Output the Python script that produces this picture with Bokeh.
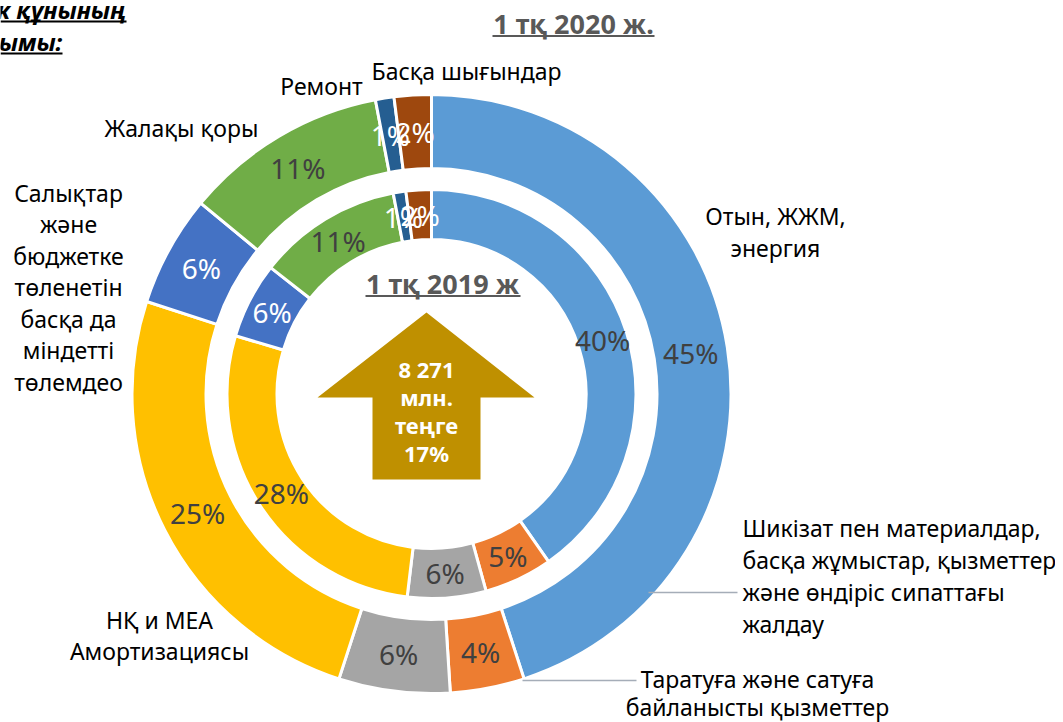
import numpy as np
from bokeh.plotting import figure
from bokeh.models import Range1d, ColumnDataSource
from bokeh.core.properties import value
from bokeh.embed import file_html
from bokeh.resources import INLINE

# ---------------- data ----------------
categories = [
    "Отын, ЖЖМ, энергия",
    "Таратуға және сатуға байланысты қызметтер",
    "Шикізат пен материалдар, басқа жұмыстар, қызметтер және өндіріс сипаттағы жалдау",
    "НҚ и МЕА Амортизациясы",
    "Салықтар және бюджетке төленетін басқа да міндетті төлемдео",
    "Жалақы қоры",
    "Ремонт",
    "Басқа шығындар",
]
label_lines = [
    ["Отын, ЖЖМ,", "энергия"],
    ["Таратуға және сатуға", "байланысты қызметтер"],
    ["Шикізат пен материалдар,", "басқа жұмыстар, қызметтер", "және өндіріс сипаттағы", "жалдау"],
    ["НҚ и МЕА", "Амортизациясы"],
    ["Салықтар", "және", "бюджетке", "төленетін", "басқа да", "міндетті", "төлемдео"],
    ["Жалақы қоры"],
    ["Ремонт"],
    ["Басқа шығындар"],
]
share_2020 = [45, 4, 6, 25, 6, 11, 1, 2]
share_2019 = [40.3, 5.4, 6.2, 27.7, 6.0, 11.4, 1.0, 2.0]
pct_2020 = ["45%", "4%", "6%", "25%", "6%", "11%", "1%", "2%"]
pct_2019 = ["40%", "5%", "6%", "28%", "6%", "11%", "1%", "2%"]
colors = ["#5B9BD5", "#ED7D31", "#A5A5A5", "#FFC000", "#4472C4", "#70AD47", "#255E91", "#9E480E"]
pct_colors = ["#404040", "#404040", "#404040", "#404040", "white", "#404040", "white", "white"]
title_2020 = "1 тқ 2020 ж."
title_2019 = "1 тқ 2019 ж"
arrow_lines = ["8 271", "млн.", "теңге", "17%"]
header_lines = ["Өнімнің өзіндік құнының", "құрылымы:"]

# ---------------- layout ----------------
W, H = 1055, 722


def Y(s):
    return H - s


p = figure(width=W, height=H, x_range=Range1d(0, W), y_range=Range1d(0, H),
           output_backend="svg", toolbar_location=None, min_border=0,
           x_axis_type=None, y_axis_type=None, outline_line_color=None)
p.grid.visible = False
p.background_fill_color = "white"
p.border_fill_color = "white"

CX, CY = 431, Y(393.5)
FONT = value("Noto Sans")


def ring(values, labels, r_in, r_out):
    v = np.array(values, dtype=float)
    frac = v / v.sum()
    c1 = np.cumsum(frac)
    c0 = c1 - frac
    start = np.pi / 2 - 2 * np.pi * c1
    end = np.pi / 2 - 2 * np.pi * c0
    mid = (c0 + c1) / 2
    rm = (r_in + r_out) / 2
    src = ColumnDataSource(dict(
        start=start, end=end, color=colors,
        x=CX + rm * np.sin(2 * np.pi * mid), y=CY + rm * np.cos(2 * np.pi * mid),
        text=labels, tcolor=pct_colors))
    p.annular_wedge(x=CX, y=CY, inner_radius=r_in, outer_radius=r_out,
                    start_angle="start", end_angle="end", fill_color="color",
                    line_color="white", line_width=3, source=src)
    return src


src_out = ring(share_2020, pct_2020, 225.5, 299.5)
src_in = ring(share_2019, pct_2019, 154.5, 204.5)
for src in (src_out, src_in):
    p.text(x="x", y="y", text="text", text_color="tcolor", text_align="center",
           text_baseline="middle", text_font=FONT, text_font_size="28px", source=src)

# category labels: anchor x, first line centre, line step, align
label_pos = [
    (775, 215, 32, "center"),
    (757, 678, 28, "center"),
    (742, 527, 32, "left"),
    (159, 619, 31, "center"),
    (68, 192, 31.5, "center"),
    (181, 127, 0, "center"),
    (321, 85, 0, "center"),
    (466, 70, 0, "center"),
]
for lines, (ax, cy, step, al) in zip(label_lines, label_pos):
    p.text(x=[ax] * len(lines), y=[Y(cy + i * step) for i in range(len(lines))], text=lines,
           text_align=al, text_baseline="middle", text_font=FONT,
           text_font_size="23px", text_color="black")

# leader lines
p.segment(x0=[648, 522], y0=[Y(592), Y(680)], x1=[737, 636], y1=[Y(592), Y(680)],
          line_color="#A5ADB8", line_width=1.3)

# titles
p.text(x=[573], y=[Y(22.5)], text=[title_2020], text_align="center", text_baseline="middle",
       text_font=FONT, text_font_style="bold", text_font_size="27px", text_color="#595959")
p.segment(x0=[492], y0=[Y(35.5)], x1=[654], y1=[Y(35.5)], line_color="#595959", line_width=2.2)
p.text(x=[442], y=[Y(282.5)], text=[title_2019], text_align="center", text_baseline="middle",
       text_font=FONT, text_font_style="bold", text_font_size="27px", text_color="#595959")
p.segment(x0=[365], y0=[Y(295.5)], x1=[520], y1=[Y(295.5)], line_color="#595959", line_width=2.2)

# header (clipped at left edge)
p.text(x=[126, 62], y=[Y(9), Y(41)], text=header_lines, text_align="right",
       text_baseline="middle", text_font=FONT, text_font_style="bold italic",
       text_font_size="24px", text_color="black")
p.segment(x0=[0, 0], y0=[Y(21), Y(53)], x1=[126, 62], y1=[Y(21), Y(53)],
          line_color="black", line_width=1.8)

# arrow
ax_pts = [426, 534, 480, 480, 372, 372, 317]
ay_pts = [312, 397, 397, 479, 479, 397, 397]
p.patch(x=ax_pts, y=[Y(v) for v in ay_pts], fill_color="#BF9000", line_color=None)
p.text(x=[426] * 4, y=[Y(368 + 28 * i) for i in range(4)], text=arrow_lines,
       text_align="center", text_baseline="middle", text_font=FONT,
       text_font_style="bold", text_font_size="22px", text_color="white")

open("out.html", "w").write(file_html(p, INLINE))
